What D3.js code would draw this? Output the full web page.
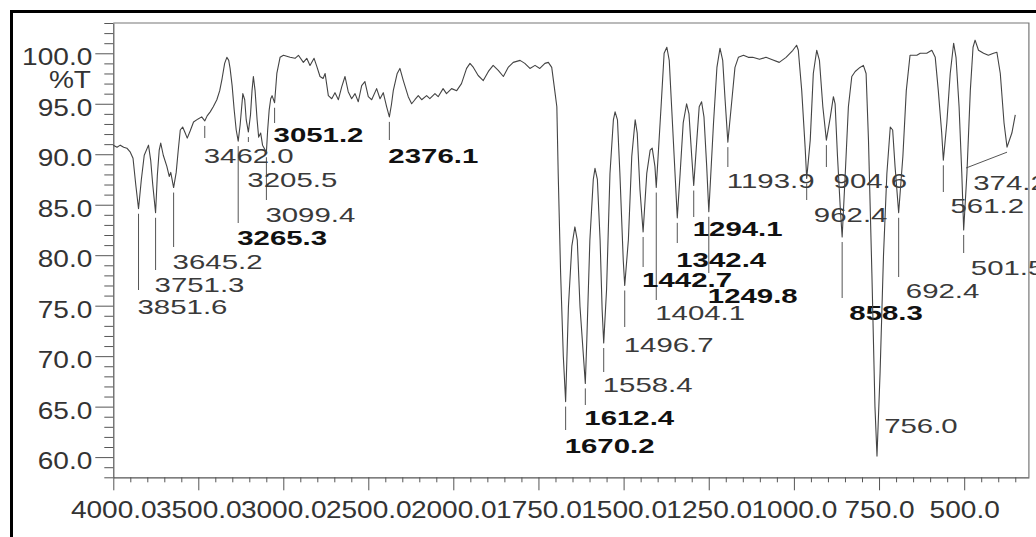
<!DOCTYPE html>
<html>
<head>
<meta charset="utf-8">
<script src="https://cdn.jsdelivr.net/npm/d3@7"></script>
<style>
  html, body { margin: 0; padding: 0; background: #fff; }
  svg { display: block; }
  text { font-family: "Liberation Sans", Arial, sans-serif; }
</style>
</head>
<body>
<svg id="chart" width="1036" height="537"></svg>
<script>
// IR spectrum: wavenumber (cm-1) against transmittance (%T), trace between the labelled bands
const traceWavenumber = [
  4000, 3978, 3959, 3939, 3920, 3900, 3884, 3868, 3835, 3818, 3793, 3780, 3768,
  3741, 3730, 3721, 3706, 3685, 3671, 3662, 3630, 3618, 3606, 3592, 3577, 3565,
  3548, 3528, 3501, 3480, 3448, 3430, 3412, 3391, 3374, 3360, 3345, 3332, 3321,
  3313, 3301, 3289, 3277, 3254, 3238, 3227, 3218, 3193, 3184, 3176, 3166, 3154,
  3145, 3133, 3122, 3092, 3083, 3074, 3066, 3038, 3019, 2999, 2960, 2931, 2911,
  2882, 2862, 2843, 2819, 2803, 2784, 2766, 2754, 2735, 2715, 2696, 2676, 2656,
  2637, 2618, 2598, 2578, 2559, 2539, 2520, 2500, 2480, 2451, 2431, 2412, 2392,
  2364, 2353, 2330, 2314, 2294, 2265, 2245, 2226, 2206, 2186, 2157, 2138, 2108,
  2089, 2060, 2040, 2010, 1990, 1976, 1961, 1951, 1941, 1927, 1912, 1897, 1883,
  1868, 1853, 1839, 1824, 1804, 1790, 1775, 1760, 1746, 1731, 1721, 1711, 1704,
  1696, 1692, 1685, 1677, 1662, 1652, 1643, 1636, 1628, 1608, 1599, 1589, 1584,
  1577, 1569, 1563, 1550, 1540, 1530, 1525, 1518, 1511, 1501, 1486, 1476, 1466,
  1460, 1452, 1432, 1422, 1416, 1408, 1390, 1381, 1373, 1366, 1359, 1349, 1334,
  1325, 1315, 1308, 1300, 1285, 1278, 1271, 1264, 1256, 1236, 1226, 1217, 1209,
  1202, 1182, 1173, 1163, 1148, 1134, 1121, 1101, 1082, 1067, 1043, 1023, 1003,
  992, 987, 977, 967, 952, 943, 933, 925, 915, 893, 884, 879, 872, 864, 850, 840,
  830, 820, 806, 796, 788, 781, 771, 762, 747, 737, 727, 717, 710, 703, 680, 670,
  659, 639, 629, 610, 595, 585, 576, 566, 551, 541, 531, 524, 515, 507, 492, 482,
  474, 468, 458, 443, 429, 414, 404, 394, 383, 360, 350
];
const traceTransmittance = [
  90.9, 90.7, 90.9, 90.7, 90.6, 90.2, 89.6, 87.0, 87.5, 89.9, 90.9, 89.4, 87.0,
  87.9, 90.4, 91.1, 89.9, 88.8, 87.8, 88.2, 88.2, 90.4, 92.4, 92.7, 92.1, 91.6,
  92.3, 93.2, 93.5, 93.7, 93.8, 94.2, 94.7, 95.4, 96.3, 97.5, 99.0, 99.6, 99.3,
  98.5, 96.8, 94.4, 92.4, 92.9, 96.0, 95.4, 93.4, 93.9, 96.3, 97.7, 96.3, 93.4,
  91.7, 92.1, 90.9, 92.4, 94.4, 95.5, 95.8, 98.0, 99.6, 99.8, 99.6, 99.5, 99.8,
  99.1, 99.5, 98.8, 99.5, 98.7, 97.7, 97.5, 98.0, 95.8, 95.5, 96.1, 95.4, 96.7,
  97.7, 96.2, 95.5, 96.0, 95.2, 96.8, 97.2, 95.7, 95.4, 96.5, 95.5, 96.1, 94.7,
  94.9, 96.3, 98.0, 98.5, 97.3, 95.7, 95.0, 95.4, 95.8, 95.4, 95.8, 95.5, 96.0,
  95.7, 96.5, 96.0, 96.5, 96.3, 97.0, 98.5, 99.0, 98.6, 97.8, 97.3, 98.2, 98.8,
  98.3, 97.7, 98.6, 99.1, 99.3, 99.0, 98.5, 98.8, 98.5, 99.0, 99.1, 98.6, 96.8,
  94.7, 88.1, 78.3, 70.0, 74.9, 80.9, 82.8, 81.5, 74.9, 71.6, 81.5, 87.5, 88.6,
  87.5, 81.5, 74.6, 76.6, 88.1, 93.4, 94.2, 93.4, 88.2, 79.5, 81.5, 89.8, 93.4,
  92.1, 86.5, 88.1, 90.4, 90.6, 88.8, 94.7, 100.0, 100.6, 99.3, 94.7, 88.1, 88.1,
  93.1, 95.0, 94.0, 89.8, 91.4, 94.7, 95.2, 93.7, 88.8, 93.1, 98.6, 100.5, 99.3,
  95.4, 95.4, 98.6, 99.6, 99.8, 99.6, 99.6, 99.4, 99.6, 99.4, 99.1, 99.6, 100.3,
  100.8, 100.3, 96.3, 90.7, 91.4, 98.0, 100.3, 99.3, 94.7, 93.7, 95.7, 95.0, 89.8, 84.8, 87.5, 94.7,
  97.7, 98.2, 98.6, 98.8, 98.0, 91.4, 78.2, 65.0, 68.3, 79.9, 88.1, 92.7, 92.4, 88.8, 89.8, 96.3,
  99.8, 99.8, 100.0, 100.0, 100.3, 99.6, 96.3, 92.1, 93.1, 98.0, 101.0, 99.6, 94.7, 88.1, 88.1, 96.3,
  100.6, 101.3, 100.3, 100.0, 99.8, 100.0, 100.1, 98.0, 93.1, 92.1, 93.9
];

// Labelled band minima
const peakWavenumber = [
  3851.6, 3751.3, 3645.2, 3462.0, 3265.3, 3205.5, 3099.4, 3051.2, 2376.1,
  1670.2, 1612.4, 1558.4, 1496.7, 1442.7, 1404.1, 1342.4, 1294.1, 1249.8,
  1193.9, 962.4, 904.6, 858.3, 756.0, 692.4, 561.2, 501.5, 374.2
];
const peakTransmittance = [
  84.6, 84.2, 86.7, 93.3, 91.3, 92.2, 90.2, 95.1, 93.7,
  65.5, 67.3, 71.3, 77.0, 82.3, 86.7, 83.7, 86.9, 84.3,
  91.2, 87.6, 91.4, 81.8, 60.1, 84.2, 89.4, 82.5, 90.7
];
const peakBold = [
  false, false, false, false, true, false, false, true, true,
  true, true, false, false, true, false, true, true, true,
  false, false, false, true, false, false, false, false, false
];

// Axis tick labels
const xTickValues = [4000, 3500, 3000, 2500, 2000, 1750, 1500, 1250, 1000, 750, 500];
const yTickValues = [60, 65, 70, 75, 80, 85, 90, 95, 100];
const yAxisTitle = "%T";

// Annotation layout (pixels): where each leader ends, where its text sits, sideways shift
const leaderEndY = [290, 270, 247, 138, 223, 142, 200, 123, 140,
                    430, 405, 372, 327, 267, 300, 243, 217, 273,
                    167, 200, 167, 298, null, 277, 192, 253, 168];
const labelBaselineY = [314, 292, 269, 163, 245, 187, 222, 142, 163,
                        453, 425, 392, 352, 287, 320, 267, 236, 303,
                        188, 222, 188, 320, 433, 298, 213, 275, 190];
const labelShiftX = [0, 0, 0, 0, 0, 0, 0, 0, 0,
                     0, 0, 0, 0, 0, 0, 0, 0, 0,
                     0, 0, 0, 0, 0, 0, 0, 0, -41];

const svg = d3.select("#chart");
const plotLeft = 113.3, plotRight = 1028.9, plotTop = 23, plotBottom = 477.3;

// Instrument scale: 4000-2000 cm-1 compressed by half relative to 2000-310 cm-1
const x = d3.scaleLinear()
  .domain([4000, 2000, 310])
  .range([plotLeft, 453.3, plotRight]);
const y = d3.scaleLinear()
  .domain([58, 103])
  .range([plotBottom, plotTop]);

// Outer heavy frame
svg.append("rect")
  .attr("x", 11.5).attr("y", 11.5)
  .attr("width", 1100).attr("height", 700)
  .attr("fill", "none").attr("stroke", "#000").attr("stroke-width", 3);

// Plot frame (top and right)
svg.append("path")
  .attr("d", `M${plotLeft},${plotTop}H${plotRight}V${plotBottom}`)
  .attr("fill", "none").attr("stroke", "#777").attr("stroke-width", 1.2);

const axisColor = "#555";

// X axis minor ticks
const xMinor = d3.range(3900, 2000, -100).filter(v => v % 500 !== 0)
  .concat(d3.range(1950, 300, -50).filter(v => v % 250 !== 0));
svg.append("g")
  .attr("transform", `translate(0,${plotBottom})`)
  .call(d3.axisBottom(x).tickValues(xMinor).tickSize(5).tickSizeOuter(0).tickFormat(""))
  .call(g => g.select(".domain").remove())
  .call(g => g.selectAll("line").attr("stroke", axisColor));

// X axis major ticks and labels
const xAxisG = svg.append("g")
  .attr("transform", `translate(0,${plotBottom})`)
  .call(d3.axisBottom(x).tickValues(xTickValues).tickSize(13).tickSizeOuter(0)
    .tickFormat(d3.format(".1f")));
xAxisG.select(".domain").attr("stroke", axisColor).attr("stroke-width", 1.2);
xAxisG.selectAll("line").attr("stroke", axisColor);
xAxisG.selectAll("text")
  .attr("y", null).attr("dy", null)
  .attr("transform", "translate(0,40.5) scale(1.22,1)")
  .attr("font-size", 23)
  .attr("fill", "#333");

// Y axis minor ticks
const yMinor = d3.range(58, 103.5, 1).filter(v => v % 5 !== 0);
svg.append("g")
  .attr("transform", `translate(${plotLeft},0)`)
  .call(d3.axisLeft(y).tickValues(yMinor).tickSize(9).tickSizeOuter(0).tickFormat(""))
  .call(g => g.select(".domain").remove())
  .call(g => g.selectAll("line").attr("stroke", axisColor));

// Y axis major ticks and labels
const yAxisG = svg.append("g")
  .attr("transform", `translate(${plotLeft},0)`)
  .call(d3.axisLeft(y).tickValues(yTickValues).tickSize(18).tickSizeOuter(0)
    .tickFormat(d3.format(".1f")));
yAxisG.select(".domain").attr("stroke", axisColor).attr("stroke-width", 1.2);
yAxisG.selectAll("line").attr("stroke", axisColor);
yAxisG.selectAll("text")
  .attr("x", null).attr("dy", null)
  .attr("text-anchor", "end")
  .attr("transform", "translate(-21,11.5) scale(1.22,1)")
  .attr("font-size", 23)
  .attr("fill", "#333");

svg.append("text")
  .attr("text-anchor", "end")
  .attr("transform", `translate(91,${y(100) + 35}) scale(1.22,1)`)
  .attr("font-size", 23)
  .attr("fill", "#333")
  .text(yAxisTitle);

// Band annotations
const peaks = peakWavenumber.map((w, i) => ({
  w, t: peakTransmittance[i], bold: peakBold[i],
  end: leaderEndY[i], base: labelBaselineY[i], dx: labelShiftX[i]
}));

const fmt = d3.format(".1f");
const annot = svg.append("g");

annot.selectAll("line.leader")
  .data(peaks.filter(p => p.end !== null))
  .join("line")
  .attr("class", "leader")
  .attr("x1", p => x(p.w))
  .attr("y1", p => y(p.t) + 5)
  .attr("x2", p => x(p.w) + p.dx)
  .attr("y2", p => p.end)
  .attr("stroke", "#555")
  .attr("stroke-width", 1);

annot.selectAll("text.band")
  .data(peaks)
  .join("text")
  .attr("class", "band")
  .attr("xml:space", "preserve")
  .style("white-space", "pre")
  .attr("transform", p => `translate(${x(p.w) + p.dx - 1},${p.base}) scale(1.4,1)`)
  .attr("font-size", 21)
  .attr("font-weight", p => p.bold ? "bold" : "normal")
  .attr("fill", p => p.bold ? "#111" : "#3a3a3a")
  .text(p => fmt(p.w).padStart(6, " "));

// Spectrum trace including the band minima
const spectrum = traceWavenumber.map((w, i) => ({ w, t: traceTransmittance[i] }))
  .concat(peaks.map(p => ({ w: p.w, t: p.t })))
  .sort((a, b) => b.w - a.w);

svg.append("path")
  .datum(spectrum)
  .attr("fill", "none")
  .attr("stroke", "#444")
  .attr("stroke-width", 1.1)
  .attr("stroke-linejoin", "round")
  .attr("d", d3.line().x(d => x(d.w)).y(d => y(d.t)));
</script>
</body>
</html>
